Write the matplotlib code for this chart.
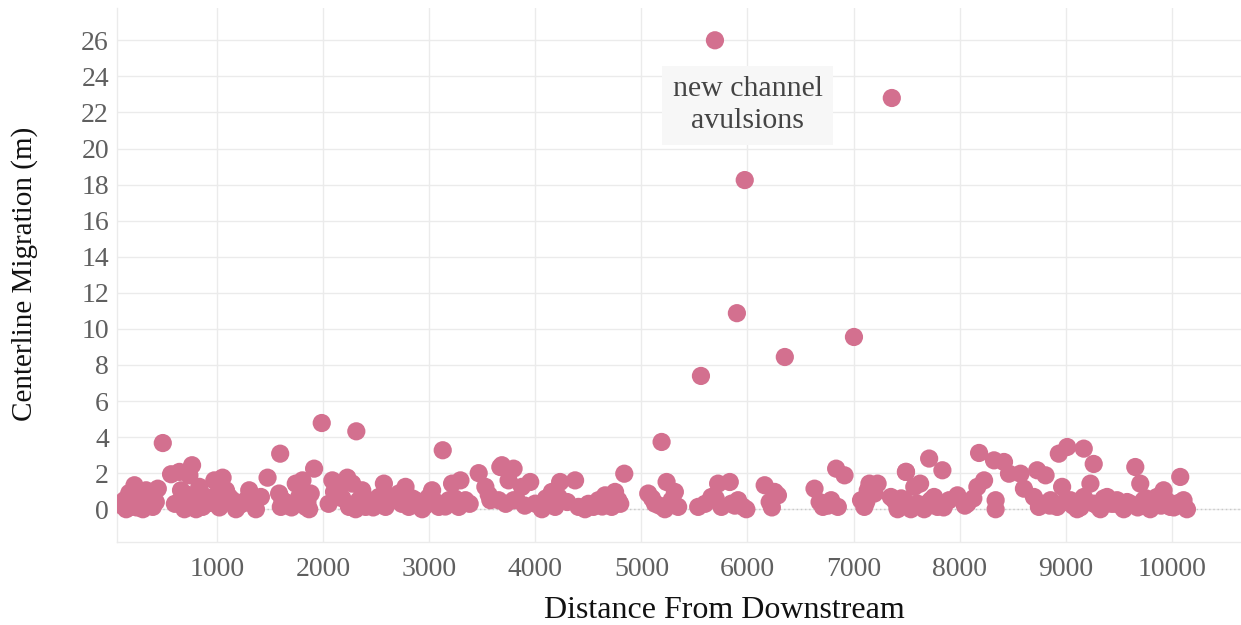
import matplotlib
matplotlib.use("Agg")
import matplotlib.pyplot as plt

# Distance from downstream (x) and centerline migration in m (y)
distance = [
    125, 141, 219, 266, 298, 360, 329, 188, 78, 392, 486, 564, 643, 439, 392,
    658, 690, 752, 800, 862, 894, 831, 762, 737, 972, 1050, 1003, 1082, 1144,
    1176, 1238, 1301, 1333, 1364, 1411, 1474, 1593, 1583, 1599, 1615, 1740,
    1772, 1803, 1834, 1866, 1881, 1913, 1985, 2085, 2101, 2148, 2226, 2273,
    2242, 2305, 2336, 2367, 2399, 2430, 2311, 2571, 2524, 2587, 2650, 2712,
    2775, 2806, 2869, 2932, 2995, 3026, 3126, 3089, 3183, 3214, 3277, 3293,
    3340, 3465, 3528, 3575, 3669, 3747, 3794,
    3684, 3794, 3653, 3825, 3951, 3873, 3998, 4061, 4186, 4218, 4155, 4233,
    4374, 4406, 4468, 4547, 4594, 4657, 4719, 4751, 4782, 4838, 5190, 5064,
    5127, 5221, 5237, 5315, 5346, 5284, 5535, 5660, 5723, 5833, 5754, 5848,
    5958, 5989, 5911, 6162, 6256, 6209, 6287, 6632, 6711, 6836, 6915, 6789,
    6852, 7071, 7102, 7150, 7197, 7134, 7385, 7416, 7495, 7573,
    7227, 7352, 7415, 7478, 7541, 7603, 7666, 7729, 7791, 7760, 7494, 7628,
    7713, 7838, 7901, 7980, 8074, 8168, 8231, 8340, 8340, 8184, 8325, 8419,
    8466, 8575, 8607, 8701, 8732, 8811, 8748, 8858, 8920, 8936, 9015, 8967,
    9046, 9109, 9171, 9234, 9265, 9328, 9391, 9422, 9171, 9265, 9485, 9548,
    9610, 9657, 9704, 9736, 9798, 9861, 9924, 9987, 10049, 10081, 10112, 10144,
    5693, 7361, 5974, 5900, 7004, 6352, 5561,
    100, 170, 240, 330, 420, 600, 720, 780, 850, 930, 1020, 1110, 1200, 1270,
    1640, 1700, 1850, 2050, 2180, 2280, 2470, 2620, 2740, 2840, 2960, 3060,
    3150, 3240, 3380, 3560, 3720, 3900, 4100, 4300, 4500, 4630, 4700, 4800,
    5100, 5170, 5300, 5600, 5700, 5880, 6230, 6680, 6760, 7120, 7450, 7580,
    7690, 7850, 8050, 8130, 8780, 8850, 8990, 9070, 9140, 9200, 9300, 9360,
    9450, 9520, 9580, 9680, 9760, 9830, 9900, 9950, 10020, 10090,
]
migration = [
    0.50, 0.00, 1.33, 0.87, 0.00, 0.31, 1.05, 0.13, 0.31, 0.13, 3.67, 1.94,
    2.07, 1.14, 0.68, 1.05, 0.00, 0.50, 0.00, 0.13, 0.68, 1.24, 2.44, 1.88,
    1.60, 1.75, 0.87, 1.05, 0.50, 0.00, 0.31, 1.05, 0.50, 0.00, 0.68, 1.75,
    3.08, 0.87, 0.13, 0.50, 1.42, 0.68, 1.60, 0.13, 0.00, 0.87, 2.25, 4.78,
    1.60, 0.96, 1.24, 1.75, 1.42, 0.13, 0.00, 0.50, 1.05, 0.13, 0.50, 4.32,
    1.42, 0.68, 0.13, 0.50, 0.87, 1.24, 0.13, 0.50, 0.00, 0.68, 1.05, 3.27,
    0.13, 0.50, 1.42, 0.13, 1.60, 0.50, 2.00, 1.24, 0.50, 2.34, 1.60, 0.50,
    2.44, 2.25, 0.50, 0.50, 1.51, 1.24, 0.31, 0.00, 0.13, 0.68, 0.96, 1.51,
    1.60, 0.13, 0.00, 0.13, 0.50, 0.77, 0.13, 0.96, 0.50, 1.97, 3.73, 0.87,
    0.31, 0.00, 1.51, 0.96, 0.13, 0.50, 0.13, 0.68, 1.42, 1.51, 0.13, 0.31,
    0.13, 0.00, 0.50, 1.33, 0.96, 0.40, 0.77, 1.14, 0.13, 2.25, 1.88, 0.50,
    0.13, 0.50, 0.13, 1.42, 0.87, 1.05, 0.50, 0.00, 2.07, 1.24,
    1.42, 0.68, 0.13, 0.50, 0.00, 0.31, 0.00, 0.50, 0.13, 0.68, 2.07, 1.42,
    2.81, 2.16, 0.50, 0.77, 0.31, 1.24, 1.60, 0.50, 0.00, 3.12, 2.71, 2.62,
    1.97, 1.97, 1.14, 0.68, 2.16, 1.88, 0.13, 0.50, 0.13, 3.08, 3.45, 1.24,
    0.50, 0.00, 0.68, 1.42, 0.31, 0.00, 0.68, 0.31, 3.36, 2.51, 0.50, 0.00,
    0.31, 2.34, 1.42, 0.50, 0.00, 0.68, 1.05, 0.13, 0.31, 1.79, 0.50, 0.00,
    26.0, 22.8, 18.25, 10.87, 9.55, 8.44, 7.39,
    0.20, 0.90, 0.10, 0.60, 0.40, 0.30, 0.80, 0.20, 0.60, 0.35, 0.10, 0.70,
    0.20, 0.50, 0.40, 0.10, 0.40, 0.30, 0.60, 0.20, 0.10, 0.70, 0.30, 0.60,
    0.20, 0.40, 0.15, 0.60, 0.30, 0.80, 0.30, 0.20, 0.60, 0.40, 0.30, 0.15,
    0.50, 0.30, 0.60, 0.20, 0.40, 0.30, 0.60, 0.20, 0.10, 0.40, 0.20, 0.40,
    0.60, 0.20, 0.30, 0.10, 0.20, 0.60, 0.30, 0.20, 0.40, 0.20, 0.10, 0.40,
    0.20, 0.60, 0.30, 0.20, 0.40, 0.10, 0.60, 0.30, 0.20, 0.50, 0.10, 0.40,
]

x_ticks = [1000, 2000, 3000, 4000, 5000, 6000, 7000, 8000, 9000, 10000]
y_ticks = list(range(0, 27, 2))

FONT = ["Liberation Serif", "DejaVu Serif"]
plt.rcParams["font.family"] = FONT

W, H = 1241, 625
fig = plt.figure(figsize=(W / 100, H / 100), dpi=100)
left, right, top, bottom = 117.3, 1241, 8, 541.7
ax = fig.add_axes([left / W, 1 - bottom / H, (right - left) / W, (bottom - top) / H])

ax.set_xlim(57, 10654)
ax.set_ylim(-1.80, 27.79)

ax.set_xticks(x_ticks)
ax.set_yticks(y_ticks)
ax.grid(True, color="#ebebeb", linewidth=1)
ax.set_axisbelow(True)
ax.axhline(0, color="#c8c8c8", linewidth=1, linestyle=(0, (1, 2)), zorder=1)

for s in ["top", "right"]:
    ax.spines[s].set_visible(False)
for s in ["left", "bottom"]:
    ax.spines[s].set_color("#ebebeb")
    ax.spines[s].set_linewidth(1)

ax.tick_params(axis="both", length=0, labelsize=20, labelcolor="#5f5f5f")
ax.tick_params(axis="y", pad=6)
ax.tick_params(axis="x", pad=11)

ax.scatter(distance, migration, s=172, color="#d3708f", edgecolors="none", zorder=3)

ax.text(6004, 22.4, "new channel\navulsions", ha="center", va="center",
        fontsize=21.5, color="#444444", linespacing=1.3, zorder=4,
        bbox=dict(boxstyle="square,pad=0.35", facecolor="#f7f7f7", edgecolor="none"))

fig.text(724 / W, 1 - 610 / H, "Distance From Downstream", ha="center", va="center",
         fontsize=23, color="#111111")
fig.text(25 / W, 1 - 274 / H, "Centerline Migration (m)", ha="center", va="center",
         rotation=90, fontsize=21, color="#111111")

fig.savefig("out.png", dpi=100)
